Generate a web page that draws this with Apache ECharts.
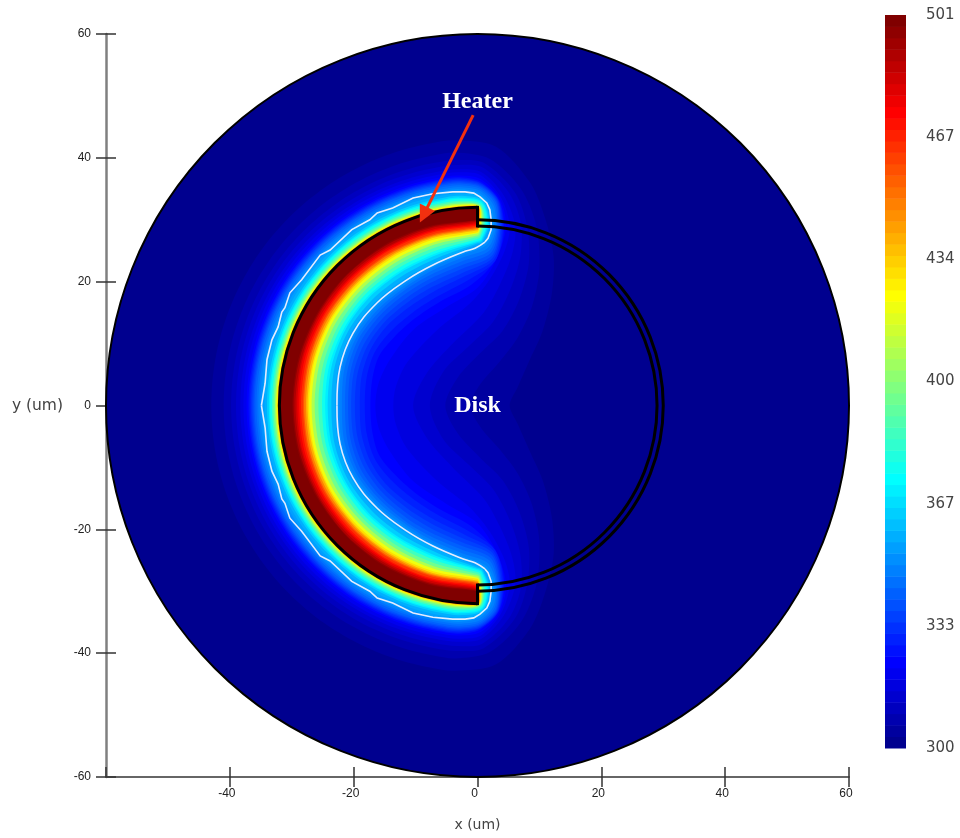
<!DOCTYPE html>
<html><head><meta charset="utf-8">
<style>html,body{margin:0;padding:0;background:#fff}#c{width:960px;height:838px}</style>
<script src="https://cdn.jsdelivr.net/npm/echarts@6/dist/echarts.min.js"></script>
</head><body><div id="c"></div>
<script>
// Axis ticks and colour-scale labels
const axisTicksUm = [-60,-40,-20,0,20,40,60];
const scaleMin = 300, scaleMax = 501, scaleBands = 64;
const scaleLabelValues = [300,333.5,367,400.5,434,467.5,501];
const diskRadiusUm = [60];

// Isotherms of the upper half (the lower half is its mirror image).
// Low bands: band index -> outer radius, then contour vertices [x,y] in um, from the cap to the symmetry axis.
const lowOuter = {1:43,2:41,3:39.8,4:39,5:38.3,6:37.8,7:37.3,8:37,9:36.8,10:36.6,11:36.4,12:36.2,13:36,14:35.7,15:35.4,16:35.1,17:34.8};
const lowEdges = {
 1:[[3,41.8],[8.5,36],[11,30],[12.3,24],[12,18],[10.5,12],[8.5,7.5],[6.5,3],[5.2,0]],
 2:[[2,39.8],[7,35],[9.5,29],[10,22],[8.8,16],[6.5,11],[3.5,7],[0.5,3.5],[-1.2,0]],
 3:[[1,39.2],[6,34.5],[8,29],[8.3,23],[6.7,17],[4,12],[0.5,8.5],[-3.2,4.5],[-5.2,0]],
 4:[[0.7,38.5],[5,34.5],[7,29.5],[6.9,24],[5.2,18.5],[2.5,13.5],[-1.5,9.5],[-5.5,5.5],[-7.7,0]],
 5:[[0.6,37.7],[4.2,34],[6.1,29],[5.6,24.5],[3.6,19.5],[1,15],[-4,10],[-8.2,5.2],[-10.4,0]],
 6:[[0.5,37.2],[3.8,33.6],[5.2,29],[4.4,25],[2,20.4],[-1.2,16.5],[-6.5,12.2],[-11.4,6.9],[-13.2,3],[-13.6,0]],
 7:[[0.5,36.6],[3.6,33.4],[4.6,28.8],[3,23.5],[0,19],[-5,15.9],[-10.4,12.2],[-14.2,7.3],[-16,3.5],[-16.5,0]],
 8:[[0.4,36.2],[3.5,33.2],[4.3,28.4],[3,23.6],[-1,19.5],[-6,16.8],[-10.2,14],[-13.5,11],[-15.9,8],[-17,4.2],[-17.3,0]],
 9:[[0.4,36],[3.4,33.2],[4.1,28.4],[2.8,23.3],[-1.6,20.2],[-6.5,17.6],[-10.5,15],[-14,12],[-16.6,8.6],[-17.9,4.5],[-18.2,0]],
 10:[[0.4,35.9],[3.3,33.2],[3.9,28.4],[2.6,23.5],[-2,20.9],[-6.9,18.5],[-10.9,16],[-14.6,12.9],[-17.2,9.2],[-18.7,4.8],[-19,0]],
 11:[[0.4,35.7],[3.2,33.1],[3.7,28.4],[2.4,23.8],[-2.3,21.5],[-7.2,19.2],[-11.1,16.8],[-15,13.5],[-17.8,9.6],[-19.4,5],[-19.8,0]],
 12:[[0.4,35.5],[3.1,33],[3.5,28.4],[2.3,24.2],[-2.5,22.1],[-7.4,19.9],[-11.3,17.5],[-15.3,14.1],[-18.3,10],[-20,5.3],[-20.4,0]],
 13:[[0.4,35.3],[3,32.8],[3.3,28.4],[2.1,24.6],[-2.5,22.7],[-7.4,20.6],[-11.4,18.2],[-15.6,14.7],[-18.8,10.4],[-20.5,5.5],[-20.9,0]],
 14:[[0.4,35],[2.8,32.6],[3.1,28.4],[1.9,25],[-2.5,23.3],[-7.4,21.2],[-11.5,18.8],[-15.8,15.2],[-19.2,10.8],[-21,5.7],[-21.4,0]],
 15:[[0.4,34.7],[2.6,32.3],[2.9,28.4],[1.6,25.4],[-2.4,23.9],[-7.3,21.8],[-11.4,19.3],[-15.9,15.7],[-19.5,11.1],[-21.5,5.9],[-21.9,0]],
 16:[[0.4,34.3],[2.3,32],[2.6,28.4],[1.4,25.9],[-2.3,24.4],[-7.2,22.3],[-11.3,19.8],[-16,16.2],[-19.8,11.4],[-21.9,6],[-22.3,0]],
 17:[[0.4,33.9],[2,31.6],[2.3,28.4],[1.2,26.4],[-2.3,24.8],[-7.2,22.7],[-11.4,20.3],[-16.2,16.6],[-20.1,11.7],[-22.2,6.2],[-22.7,0]]
};
// High bands: [band, outer radius, cap x, cap top y, inner radius at 90,105,120,135,150,165,180 degrees]
const innerStationsDeg = [90,105,120,135,150,165,180];
const highBands = [
 [18,34.4,2.1,33.6,26.0,24.2,23.6,23.5,23.6,23.3,23.0],
 [20,34.0,1.9,33.2,26.2,24.7,24.2,24.1,24.1,23.9,23.6],
 [22,33.7,1.7,33.0,26.4,25.2,24.8,24.7,24.6,24.4,24.2],
 [24,33.5,1.5,32.8,26.6,25.5,25.1,25.0,24.9,24.8,24.6],
 [27,33.2,1.2,32.6,26.9,25.9,25.6,25.5,25.4,25.3,25.1],
 [30,32.95,1.0,32.4,27.2,26.4,26.1,26.0,25.9,25.8,25.7],
 [34,32.7,0.8,32.3,27.5,26.9,26.6,26.5,26.5,26.4,26.3],
 [38,32.5,0.6,32.2,27.8,27.3,27.1,27.0,27.0,26.9,26.8],
 [41,32.35,0.5,32.15,28.0,27.7,27.5,27.4,27.4,27.3,27.2],
 [44,32.25,0.4,32.1,28.3,28.0,27.8,27.7,27.6,27.5,27.45],
 [47,32.2,0.3,32.05,28.5,28.2,28.0,27.9,27.9,27.8,27.7],
 [50,32.15,0.2,32.05,28.7,28.4,28.3,28.2,28.2,28.1,28.0],
 [52,32.1,0.1,32.05,28.9,28.6,28.5,28.4,28.4,28.3,28.2],
 [54,32.1,0.1,32.0,29.1,28.9,28.8,28.7,28.7,28.6,28.5],
 [56,32.05,0,32.0,29.3,29.1,29.0,29.0,28.9,28.9,28.8],
 [58,32,0,32.0,29.5,29.3,29.3,29.2,29.2,29.2,29.1],
 [60,32,0,32.0,29.7,29.6,29.5,29.5,29.5,29.4,29.4],
 [62,32,0,32.0,29.9,29.8,29.8,29.8,29.7,29.7,29.7],
 [63,32,0,32.0,30.0,30.0,30.0,29.9,29.9,29.9,29.9]
];
// White outline, upper half: jagged outer edge and smooth inner edge.
const whiteOuter = [[-34.9,0],[-34.3,3.6],[-34,7.4],[-33.2,10.6],[-32.2,12.7],[-31.6,15.1],[-31.1,15.8],[-30.3,18.2],[-28.4,20.3],[-25.4,24.3],[-23.8,25.1],[-20.3,28.4],[-17.4,30],[-16.2,31.1],[-13.7,31.9],[-10.4,33.5],[-7.2,34.2],[-4,34.5],[-2,34.5],[-0.6,34.3],[0.4,33.7],[1.5,32.7],[2,31.6],[2.2,30],[2.2,28.4],[1.7,27],[1.2,26.4]];
const whiteInner = [[1.2,26.4],[-0.4,25.4],[-2.3,24.8],[-7.2,22.7],[-11.4,20.3],[-16.2,16.6],[-20.1,11.7],[-22.2,6.2],[-22.7,0]];
// Black structure: arcs [radius, from deg, to deg] and the heater end steps [x, y1, y2].
const blackArcs = [[32,90,270],[30,90,-90],[29,90,-90]];
const blackSteps = [[0,32,29],[0,-32,-29]];
const textLabels = [[0,49.1,'Heater'],[0,-0.1,'Disk']];
const arrowCoords = [[-0.7,46.9],[-8.7,30.8]];

function jet(i){
  const f=v=>Math.round(255*Math.max(0,Math.min(1,v)));
  const x=i+1;
  const r=x<=24?0:x<=40?(x-24)/16:x<=56?1:1-(x-56)/16;
  const g=x<=8?0:x<=24?(x-8)/16:x<=40?1:x<=56?1-(x-40)/16:0;
  const b=x<=8?(x+8)/16:x<=24?1:x<=40?1-(x-24)/16:0;
  return 'rgb('+f(r)+','+f(g)+','+f(b)+')';
}
const polar=(r,d)=>[r*Math.cos(d*Math.PI/180),r*Math.sin(d*Math.PI/180)];
function closeShape(rOut,edge){
  const up=[];
  for(let d=180;d>=95;d-=5) up.push(polar(rOut,d));
  edge.forEach(p=>up.push(p));
  const low=up.slice(1,-1).reverse().map(p=>[p[0],-p[1]]);
  return up.concat(low);
}
const contours=[];
Object.keys(lowEdges).forEach(k=>contours.push({band:+k,pts:closeShape(lowOuter[k],lowEdges[k])}));
highBands.forEach(row=>{
  const [band,rOut,capX,capTop]=row; const rs=row.slice(4);
  const edge=[[capX*0.4,capTop],[capX,(capTop+rs[0])/2],[capX*0.4,rs[0]+0.3]];
  innerStationsDeg.forEach((d,j)=>edge.push(polar(rs[j],d)));
  edge[edge.length-1]=[-rs[rs.length-1],0];
  contours.push({band,pts:closeShape(rOut,edge)});
});
contours.sort((a,b)=>a.band-b.band);
const mirror=l=>l.slice().reverse().map(p=>[p[0],-p[1]]);
const whitePaths=[whiteOuter,mirror(whiteOuter),whiteInner,mirror(whiteInner)];
const bandStep=(scaleMax-scaleMin)/scaleBands;
const bandIds=Array.from({length:scaleBands},(_,i)=>[i]);

const chart=echarts.init(document.getElementById('c'),null,{renderer:'canvas'});
const lineCol='#333';
chart.setOption({
 animation:false,
 grid:[
  {left:106,top:34,width:743,height:743,outerBoundsMode:'none'},
  {left:885,top:15,width:21,height:733,outerBoundsMode:'none'}
 ],
 xAxis:[
  {gridIndex:0,type:'value',min:-60,max:60,interval:20,position:'bottom',
   name:'x (um)',nameLocation:'middle',nameGap:41,
   nameTextStyle:{fontFamily:'DejaVu Sans',fontSize:14,color:'#444'},
   splitLine:{show:false},axisLine:{onZero:false,lineStyle:{color:'#666',width:2}},
   axisTick:{length:10,lineStyle:{color:lineCol,width:1.5}},
   axisLabel:{showMinLabel:false,margin:11,padding:[0,6,0,0],fontFamily:'Liberation Sans',fontSize:12,color:'#222'}},
  {gridIndex:0,type:'value',min:-60,max:60,interval:20,position:'bottom',splitLine:{show:false},axisLine:{onZero:false,show:false},
   axisTick:{inside:true,length:10,lineStyle:{color:lineCol,width:1.5}},axisLabel:{show:false}},
  {gridIndex:1,type:'value',min:0,max:1,show:false}
 ],
 yAxis:[
  {gridIndex:0,type:'value',min:-60,max:60,interval:20,position:'left',
   name:'y (um)',nameLocation:'middle',nameRotate:0,nameGap:43,
   nameTextStyle:{fontFamily:'DejaVu Sans',fontSize:15.5,color:'#444'},
   splitLine:{show:false},axisLine:{onZero:false,lineStyle:{color:'#808080',width:2.5}},
   axisTick:{length:10,lineStyle:{color:lineCol,width:1.5}},
   axisLabel:{margin:15,fontFamily:'Liberation Sans',fontSize:12,color:'#222'}},
  {gridIndex:0,type:'value',min:-60,max:60,interval:20,position:'left',splitLine:{show:false},axisLine:{onZero:false,show:false},
   axisTick:{inside:true,length:10,lineStyle:{color:lineCol,width:1.5}},axisLabel:{show:false}},
  {gridIndex:1,type:'value',min:scaleMin,max:scaleMax,position:'right',splitLine:{show:false},
   axisLine:{show:false},axisTick:{show:false},
   axisLabel:{customValues:scaleLabelValues,margin:20,padding:[0,0,4,0],align:'left',fontFamily:'DejaVu Sans',fontSize:15,color:'#444',
     formatter:v=>String(Math.floor(v))}}
 ],
 series:[
  {type:'custom',name:'Disk',xAxisIndex:0,yAxisIndex:0,clip:false,silent:true,z:2,
   data:[[0,0,diskRadiusUm[0]]],
   renderItem:(p,api)=>{const c=api.coord([api.value(0),api.value(1)]);const r=api.size([api.value(2),0])[0];
     return {type:'circle',shape:{cx:c[0],cy:c[1],r},style:{fill:jet(0),stroke:'#000',lineWidth:2}};}},
  {type:'custom',name:'Temperature',xAxisIndex:0,yAxisIndex:0,clip:false,silent:true,z:3,
   data:contours.map((c,i)=>[i]),
   renderItem:(p,api)=>{const c=contours[api.value(0)];
     return {type:'polygon',shape:{points:c.pts.map(q=>api.coord(q)),smooth:0.3},style:{fill:jet(c.band)}};}},
  {type:'custom',name:'Outline',xAxisIndex:0,yAxisIndex:0,clip:false,silent:true,z:4,
   data:whitePaths.map((c,i)=>[i]),
   renderItem:(p,api)=>{const i=api.value(0);
     return {type:'polyline',shape:{points:whitePaths[i].map(q=>api.coord(q)),smooth:i>1?0.4:0},style:{fill:null,stroke:'#e4ecff',lineWidth:1.6}};}},
  {type:'custom',name:'Arcs',xAxisIndex:0,yAxisIndex:0,clip:false,silent:true,z:5,
   data:blackArcs,
   renderItem:(p,api)=>{const o=api.coord([0,0]);const r=api.size([api.value(0),0])[0];
     return {type:'arc',shape:{cx:o[0],cy:o[1],r,startAngle:-api.value(1)*Math.PI/180,endAngle:-api.value(2)*Math.PI/180,clockwise:api.value(2)<api.value(1)},
       style:{fill:null,stroke:'#000',lineWidth:3}};}},
  {type:'custom',name:'Steps',xAxisIndex:0,yAxisIndex:0,clip:false,silent:true,z:5,
   data:blackSteps,
   renderItem:(p,api)=>{const a=api.coord([api.value(0),api.value(1)]),b=api.coord([api.value(0),api.value(2)]);
     return {type:'line',shape:{x1:a[0],y1:a[1],x2:b[0],y2:b[1]},style:{stroke:'#000',lineWidth:3,lineCap:'square'}};}},
  {type:'lines',name:'Arrow',coordinateSystem:'cartesian2d',xAxisIndex:0,yAxisIndex:0,silent:true,z:6,
   symbol:['none','triangle'],symbolSize:17,
   lineStyle:{color:'#f2300f',width:3,opacity:1,curveness:0},
   data:[{coords:arrowCoords}]},
  {type:'scatter',name:'Labels',xAxisIndex:0,yAxisIndex:0,silent:true,z:7,symbolSize:0,
   itemStyle:{opacity:1},
   data:textLabels,
   label:{show:true,position:'inside',formatter:'{@[2]}',fontFamily:'Liberation Serif',fontWeight:'bold',fontSize:24,color:'#ffffff',textBorderWidth:0,textBorderColor:'transparent',opacity:1},
   labelLayout:{hideOverlap:false}},
  {type:'custom',name:'Scale',xAxisIndex:2,yAxisIndex:2,clip:false,silent:true,
   data:bandIds,
   renderItem:(p,api)=>{const i=api.value(0);
     const a=api.coord([0,scaleMin+(i+1)*bandStep]),b=api.coord([1,scaleMin+i*bandStep]);
     return {type:'rect',shape:{x:a[0],y:a[1],width:b[0]-a[0],height:b[1]-a[1]+0.5},style:{fill:jet(i)}};}}
 ]
});
</script></body></html>
